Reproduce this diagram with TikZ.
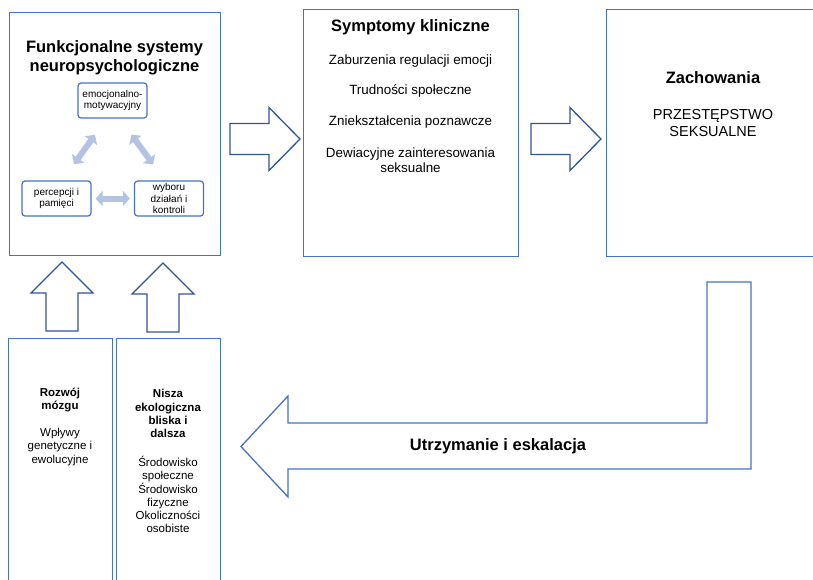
\documentclass[tikz,border=0pt]{standalone}
\usepackage{fontspec}
\setmainfont{Liberation Sans}
\usetikzlibrary{calc,arrows.meta}
\definecolor{boxblue}{HTML}{4472C4}
\definecolor{arrowblue}{HTML}{2F5597}
\definecolor{paleblue}{HTML}{B4C3E3}
\def\rightblock[#1](#2){\draw[#1] ($(#2)+(0,-15.5)$) -- ++(39,0) -- ++(0,-16) -- ++(31,31.5) -- ++(-31,31.5) -- ++(0,-16) -- ++(-39,0) -- cycle;}
\def\upblock[#1](#2){\draw[#1] ($(#2)+(-16,0)$) -- ++(0,-38) -- ++(-15,0) -- ++(31,-31) -- ++(31,31) -- ++(-15,0) -- ++(0,38) -- cycle;}
\tikzset{
  bigbox/.style={draw=boxblue, line width=1.3pt, anchor=north west, inner sep=0pt},
  smallbox/.style={draw=boxblue, line width=1.2pt, rounded corners=3pt, minimum width=69, minimum height=35, inner sep=0pt, align=center, font=\fontsize{10}{11.5}\selectfont},
  heading/.style={inner sep=0pt, align=center, font=\bfseries\fontsize{16.5}{19}\selectfont},
  bodytext/.style={inner sep=0pt, align=center, font=\fontsize{13.4}{15}\selectfont},
  coltext/.style={inner sep=0pt, align=center, font=\fontsize{11.5}{13.2}\selectfont},
  dblarr/.style={paleblue, line width=6pt, {Triangle[length=7pt,width=15pt]}-{Triangle[length=7pt,width=15pt]}},
  darkarrow/.style={draw=arrowblue, line width=1.3pt, line join=miter},
  loopstyle/.style={draw=boxblue, line width=1.3pt, line join=miter}
}
\begin{document}
\begin{tikzpicture}[x=1pt, y=-1pt]
		%%%%% FRAME %%%%%
		\useasboundingbox (0,0) rectangle (813,579);
		\clip (0,0) rectangle (813,579);
		
		%%%%% TOP ROW %%%%%
		\node[bigbox, minimum width=211, minimum height=243] (funk) at (9,12) {};
		\node[heading] (funktitle) at (114.5,57.5) {Funkcjonalne systemy\\neuropsychologiczne};
		
		\node[smallbox] (emoc) at (112.5,100.5) {emocjonalno-\\motywacyjny};
		\node[smallbox] (percep) at (56.5,198.5) {percepcji i\\pamięci};
		\node[smallbox] (wybor) at (169,198.5) {wyboru\\działań i\\kontroli};
		\draw[dblarr, shorten <=20pt, shorten >=20pt] ([xshift=6pt]percep.north) -- ([xshift=-6pt]emoc.south);
		\draw[dblarr, shorten <=20pt, shorten >=20pt] ([xshift=7pt]emoc.south) -- ([xshift=-4pt]wybor.north);
		\draw[dblarr, shorten <=4pt, shorten >=4pt] (percep.east) -- (wybor.west);
		
		\node[bigbox, minimum width=215, minimum height=247] (sympt) at (303,9) {};
		\node[heading] (sympttitle) at (410.5,27) {Symptomy kliniczne};
		\node[bodytext] (emocje) at (410.5,61) {Zaburzenia regulacji emocji};
		\node[bodytext] (spol) at (410.5,91) {Trudności społeczne};
		\node[bodytext] (znieks) at (410.5,122) {Zniekształcenia poznawcze};
		\node[bodytext] (dewiac) at (410.5,160) {Dewiacyjne zainteresowania\\seksualne};
		
		\node[bigbox, minimum width=214, minimum height=247] (zach) at (606,9) {};
		\node[heading] (zachtitle) at (713,78) {Zachowania};
		\node[inner sep=0pt, align=center, font=\fontsize{14.5}{17}\selectfont] (przest) at (713,123) {PRZESTĘPSTWO\\SEKSUALNE};
		
		\rightblock[darkarrow](230,139);
		\rightblock[darkarrow](531,139);
		
		%%%%% BOTTOM ROW %%%%%
		\node[bigbox, minimum width=104, minimum height=260] (mozg) at (8,338) {};
		\node[coltext, font=\bfseries\fontsize{11.5}{13.2}\selectfont] (mozgtitle) at (60,400) {Rozwój\\mózgu};
		\node[coltext] (wplywy) at (60,447) {Wpływy\\genetyczne i\\ewolucyjne};
		
		\node[bigbox, minimum width=104, minimum height=260] (nisza) at (116,338) {};
		\node[coltext, font=\bfseries\fontsize{11.5}{13.2}\selectfont] (niszatitle) at (168,413.5) {Nisza\\ekologiczna\\bliska i\\dalsza};
		\node[coltext] (srod) at (168,494.5) {Środowisko\\społeczne\\Środowisko\\fizyczne\\Okoliczności\\osobiste};
		
		\upblock[darkarrow](62,331);
		\upblock[darkarrow](163,332);
		
		%%%%% RETURN ARROW %%%%%
		\draw[loopstyle] (707,282) -- (751,282) -- (751,469) -- (288,469) -- (288,497) -- (241,446.5) -- (288,396) -- (288,423) -- (707,423) -- cycle;
		\node[heading] (petla) at (498,446) {Utrzymanie i eskalacja};
		
	\end{tikzpicture}
\end{document}
